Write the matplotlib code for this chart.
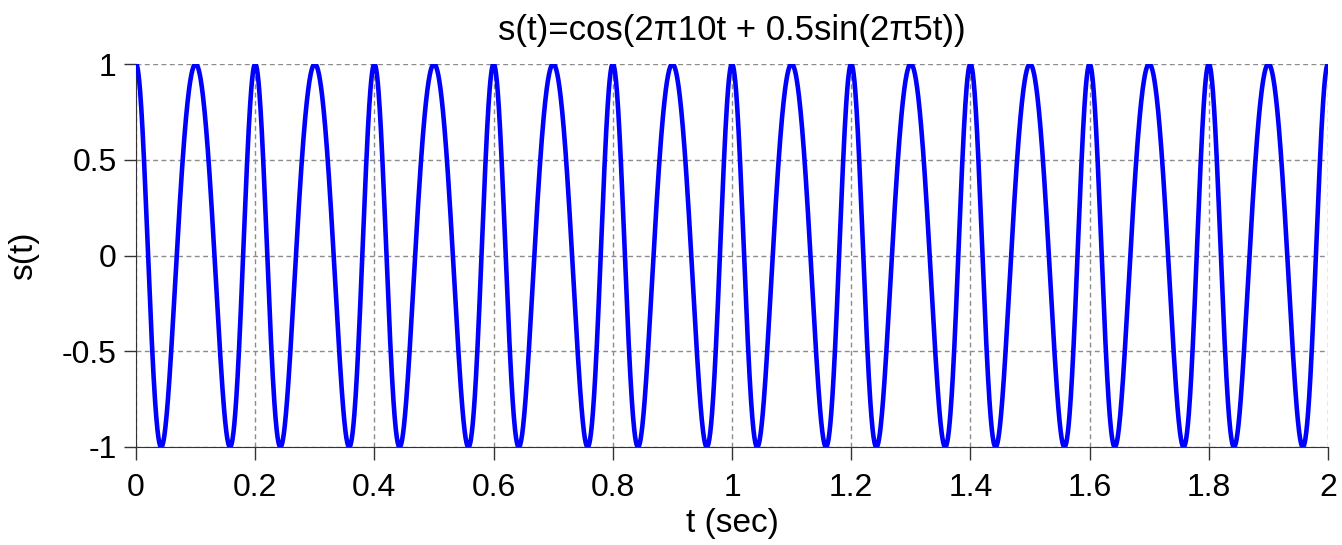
import numpy as np
import matplotlib.pyplot as plt

# signal parameters, as given in the chart title
carrier_freq = 10     # Hz
mod_freq = 5          # Hz
mod_index = 0.5
t_start, t_end = 0.0, 2.0

x_ticks = [0, 0.2, 0.4, 0.6, 0.8, 1, 1.2, 1.4, 1.6, 1.8, 2]
x_tick_labels = ['0', '0.2', '0.4', '0.6', '0.8', '1', '1.2', '1.4', '1.6', '1.8', '2']
y_ticks = [-1, -0.5, 0, 0.5, 1]
y_tick_labels = ['-1', '-0.5', '0', '0.5', '1']

t = np.linspace(t_start, t_end, 4001)
s = np.cos(2 * np.pi * carrier_freq * t + mod_index * np.sin(2 * np.pi * mod_freq * t))

plt.rcParams['font.family'] = ['Liberation Sans', 'DejaVu Sans']

fig = plt.figure(figsize=(13.42, 5.45), dpi=100)
ax = fig.add_axes([136 / 1342, 1 - 447 / 545, (1328 - 136) / 1342, (447 - 64) / 545])

ax.plot(t, s, color='#0000ff', linewidth=3.3, zorder=3)

ax.set_xlim(t_start, t_end)
ax.set_ylim(-1, 1)
ax.set_xticks(x_ticks)
ax.set_xticklabels(x_tick_labels)
ax.set_yticks(y_ticks)
ax.set_yticklabels(y_tick_labels)
ax.tick_params(labelsize=23, direction='out', length=9, width=1, color='#333333')
ax.tick_params(axis='x', pad=10)
ax.tick_params(axis='y', pad=5)

ax.grid(True, linestyle=(0, (3.5, 2.5)), color='#8c8c8c', linewidth=1.0)
ax.spines['top'].set_visible(False)
ax.spines['right'].set_visible(False)
ax.spines['left'].set_color('#333333')
ax.spines['bottom'].set_color('#333333')

ax.set_title('s(t)=cos(2\u03c010t + 0.5sin(2\u03c05t))', fontsize=25, pad=17)
ax.set_xlabel('t (sec)', fontsize=24, labelpad=3)
ax.set_ylabel('s(t)', fontsize=24, labelpad=16)

fig.savefig('out.png', dpi=100)
